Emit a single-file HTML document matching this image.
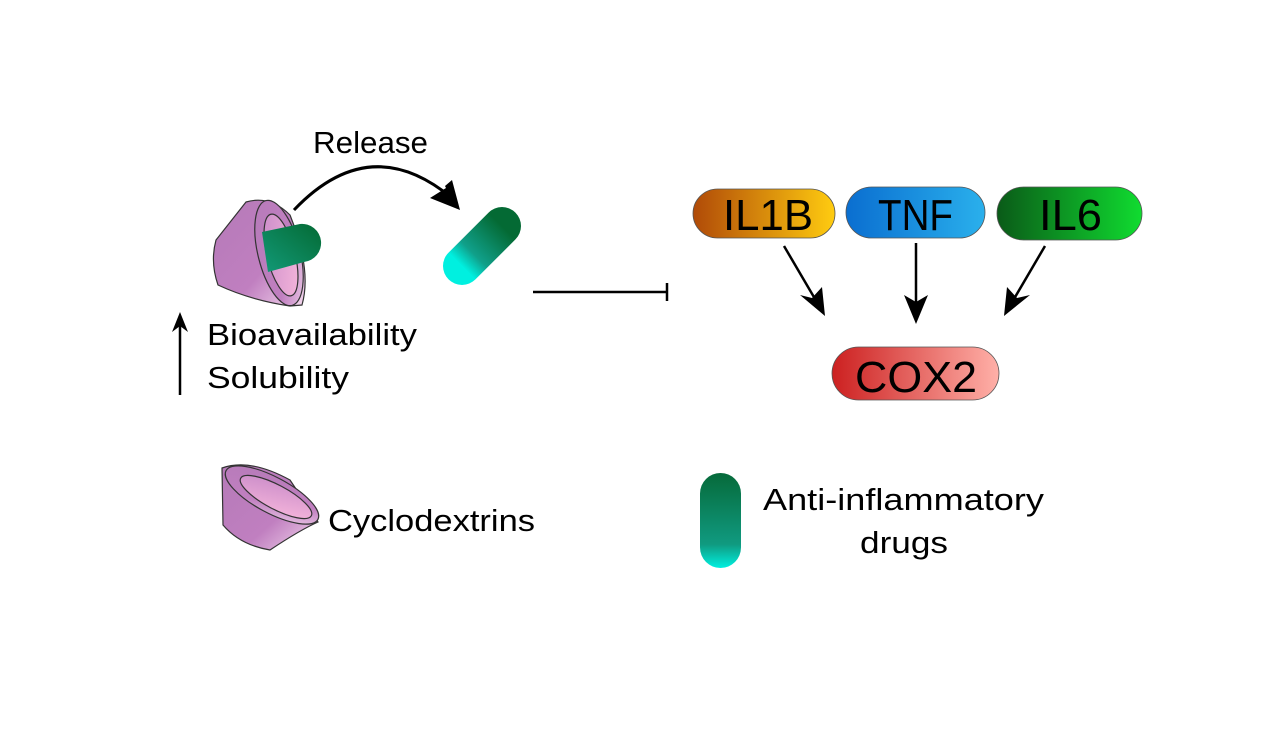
<!DOCTYPE html>
<html><head><style>
html,body{margin:0;padding:0;background:#fff;}
svg{display:block;}
text{font-family:"Liberation Sans",sans-serif;fill:#000;}
</style></head><body>
<svg width="1270" height="751" viewBox="0 0 1270 751" xmlns="http://www.w3.org/2000/svg">
<defs>
<linearGradient id="cone" x1="0" y1="0" x2="1" y2="1">
<stop offset="0" stop-color="#b57ab8"/><stop offset="0.6" stop-color="#c07fc0"/><stop offset="1" stop-color="#f4d8ee"/></linearGradient>
<linearGradient id="inner" x1="0" y1="0" x2="1" y2="1">
<stop offset="0" stop-color="#c88ac8"/><stop offset="1" stop-color="#f8b8dc"/></linearGradient>
<linearGradient id="drug" x1="0" y1="1" x2="1" y2="0">
<stop offset="0" stop-color="#00f0e0"/><stop offset="0.3" stop-color="#10a08a"/><stop offset="1" stop-color="#046a34"/></linearGradient>
<linearGradient id="drugv" x1="0" y1="1" x2="0" y2="0">
<stop offset="0" stop-color="#00f0e0"/><stop offset="0.25" stop-color="#109a80"/><stop offset="1" stop-color="#066a3a"/></linearGradient>
<linearGradient id="drugh" x1="0" y1="1" x2="1" y2="0">
<stop offset="0" stop-color="#129a78"/><stop offset="1" stop-color="#046a34"/></linearGradient>
<linearGradient id="g1" x1="0" x2="1"><stop offset="0" stop-color="#b04a08"/><stop offset="1" stop-color="#ffcc10"/></linearGradient>
<linearGradient id="g2" x1="0" x2="1"><stop offset="0" stop-color="#0a6ed0"/><stop offset="1" stop-color="#2ab0ec"/></linearGradient>
<linearGradient id="g3" x1="0" x2="1"><stop offset="0" stop-color="#0a5a18"/><stop offset="1" stop-color="#10dc30"/></linearGradient>
<linearGradient id="g4" x1="0" x2="1"><stop offset="0" stop-color="#cc2020"/><stop offset="1" stop-color="#ffb0a8"/></linearGradient>
</defs>

<!-- top cone -->
<g stroke="#333" stroke-width="1.2">
<path d="M246 202 L216 240 Q210 262 218 285 Q250 300 290 306 L302 305 Q312 270 290 215 Q270 195 246 202Z" fill="url(#cone)"/>
<ellipse cx="279" cy="253" rx="21" ry="54" transform="rotate(-14 279 253)" fill="url(#cone)"/>
<ellipse cx="281" cy="255" rx="14" ry="42" transform="rotate(-14 281 255)" fill="url(#inner)"/>
</g>
<path d="M262 232 L300 224 A19 19 0 0 1 304 262 L268 272Z" fill="url(#drugh)"/>

<!-- release arc -->
<path d="M294 210 Q370 130 452 198" fill="none" stroke="#000" stroke-width="3"/>
<polygon points="460,210 430,198 446,188 445,186 452,180" fill="#000"/>
<text x="313" y="153" font-size="31" textLength="115" lengthAdjust="spacingAndGlyphs">Release</text>

<!-- free drug -->
<line x1="462" y1="266" x2="502" y2="226" stroke="url(#drug)" stroke-width="38" stroke-linecap="round"/>

<!-- inhibition -->
<line x1="533" y1="292" x2="667" y2="292" stroke="#000" stroke-width="2.5"/>
<line x1="667" y1="283" x2="667" y2="301" stroke="#000" stroke-width="2.5"/>

<!-- pills -->
<rect x="693" y="189" width="142" height="49" rx="24.5" fill="url(#g1)" stroke="#555" stroke-width="0.8"/>
<rect x="846" y="187" width="139" height="51" rx="25.5" fill="url(#g2)" stroke="#555" stroke-width="0.8"/>
<rect x="997" y="187" width="145" height="53" rx="26.5" fill="url(#g3)" stroke="#555" stroke-width="0.8"/>
<rect x="832" y="347" width="167" height="53" rx="26.5" fill="url(#g4)" stroke="#555" stroke-width="0.8"/>
<g font-size="44" lengthAdjust="spacingAndGlyphs">
<text x="723" y="230" textLength="90" lengthAdjust="spacingAndGlyphs">IL1B</text>
<text x="878" y="230" textLength="75" lengthAdjust="spacingAndGlyphs">TNF</text>
<text x="1039" y="230" textLength="63" lengthAdjust="spacingAndGlyphs">IL6</text>
<text x="855" y="392" textLength="122" lengthAdjust="spacingAndGlyphs">COX2</text>
</g>

<!-- arrows -->
<g stroke="#000" stroke-width="2.5">
<line x1="784" y1="246" x2="818" y2="304"/>
<line x1="916" y1="243" x2="916" y2="312"/>
<line x1="1045" y1="246" x2="1011" y2="304"/>
</g>
<polygon points="825,316 800,295 812,298 822,287" fill="#000"/>
<polygon points="916,324 904,295 916,302 928,295" fill="#000"/>
<polygon points="1004,316 1007,287 1017,298 1030,295" fill="#000"/>

<!-- up arrow and text -->
<line x1="180" y1="395" x2="180" y2="325" stroke="#000" stroke-width="2.5"/>
<polygon points="180,312 172,332 180,326 188,332" fill="#000"/>
<text x="207" y="345" font-size="31" textLength="210" lengthAdjust="spacingAndGlyphs">Bioavailability</text>
<text x="207" y="388" font-size="31" textLength="142" lengthAdjust="spacingAndGlyphs">Solubility</text>

<!-- legend cone -->
<g stroke="#333" stroke-width="1.2">
<path d="M222 468 L223 525 Q240 545 270 550 Q300 530 318 522 L290 480 Q250 458 222 468Z" fill="url(#cone)"/>
<ellipse cx="272" cy="495" rx="52" ry="18" transform="rotate(28 272 495)" fill="url(#cone)"/>
<ellipse cx="276" cy="497" rx="40" ry="12" transform="rotate(28 276 497)" fill="url(#inner)"/>
</g>
<text x="328" y="531" font-size="31" textLength="207" lengthAdjust="spacingAndGlyphs">Cyclodextrins</text>

<!-- legend drug -->
<rect x="700" y="473" width="41" height="95" rx="20.5" fill="url(#drugv)"/>
<text x="763" y="510" font-size="31" textLength="281" lengthAdjust="spacingAndGlyphs">Anti-inflammatory</text>
<text x="860" y="553" font-size="31" textLength="88" lengthAdjust="spacingAndGlyphs">drugs</text>
</svg>
</body></html>
